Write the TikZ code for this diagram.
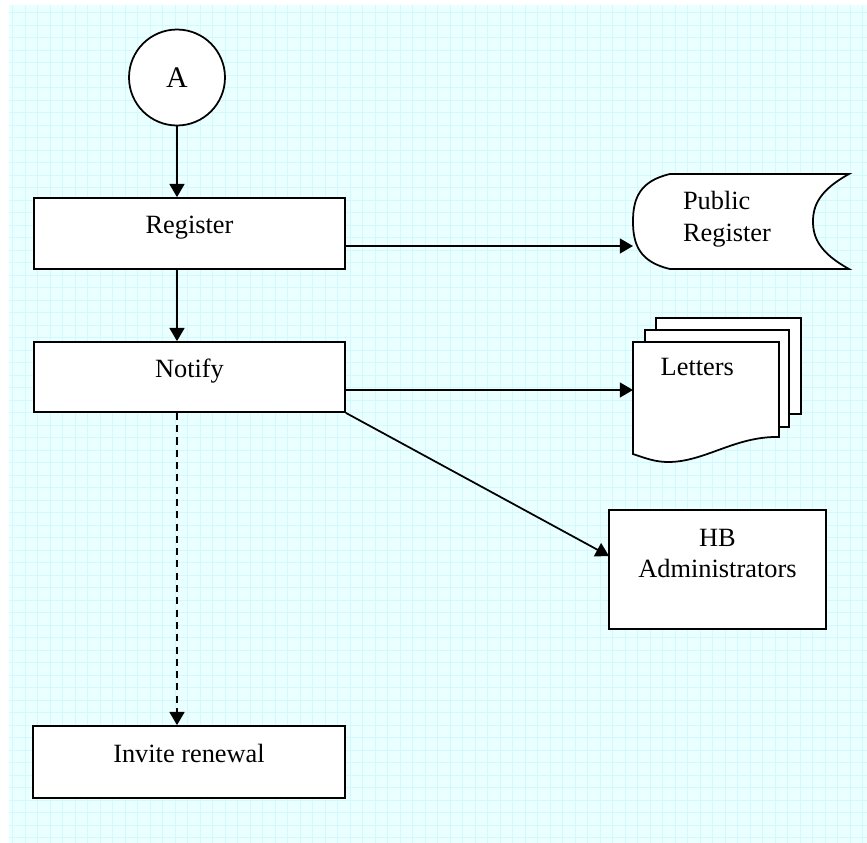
\documentclass[tikz,border=0pt]{standalone}
\usepackage{fontspec}
\setmainfont{Liberation Serif}
\usetikzlibrary{arrows.meta}
\usetikzlibrary{shapes,positioning}
\tikzset{>={Triangle[length=7.5pt,width=8.5pt]}}
\definecolor{paperCyan}{RGB}{234,255,255}
\definecolor{gridCyan}{RGB}{212,249,252}
\tikzset{procBox/.style={draw,fill=white,text height=0.35cm,text depth=0.35cm}}

\begin{document}
\begin{tikzpicture}[x=0.02cm,y=-0.02cm,line width=1pt,
		every node/.style={font=\fontsize{15}{18}\selectfont}]
				\useasboundingbox (0,0) rectangle (867,843);
				\fill [paperCyan] (9,5) rectangle (867,843);
				\draw [gridCyan,line width=0.25pt] (9,5) grid[step=0.25cm] (867,843);
				
				\node [draw,circle,fill=white,minimum size=1.92cm,inner sep=0pt,font=\fontsize{17}{20}\selectfont] (A) at (177,77.5) {A};
				\node [procBox,minimum width=6.22cm,minimum height=1.42cm] (reg) at (189.5,233.5) {Register};
				\node [procBox,minimum width=6.22cm,minimum height=1.4cm] (notify) at (189.5,377) {Notify};
				\node [procBox,minimum width=6.24cm,minimum height=1.44cm] (invite) at (189,762) {Invite renewal};
				
				% public register (stored data)
				\coordinate (prin) at (633,246);
				\draw [fill=white] (670,174) -- (849,174) .. controls (820,190) and (813,205) .. (813,221.5)
					.. controls (813,238) and (820,253) .. (849,269) -- (670,269)
					.. controls (640,262) and (633,245) .. (633,221.5)
					.. controls (633,198) and (640,181) .. (670,174) -- cycle;
				\node [align=left] (pubreg) at (727,219.5) {Public\\Register};
				
				% letters
				\coordinate (letin) at (633,390);
				\draw [fill=white] (656,318) rectangle (801,414);
				\draw [fill=white] (645,330) rectangle (789,427);
				\draw [fill=white] (633,342) -- (779,342) -- (779,437) .. controls (735,436) and (705,462) .. (668,462)
					.. controls (655,462) and (645,458) .. (633,454) -- cycle;
				\node [anchor=base west] (letters) at (654,375) {Letters};
				
				% HB administrators
				\coordinate (hbin) at (609,556);
				\node [draw,fill=white,minimum width=4.34cm,minimum height=2.38cm] (hb) at (717.5,569.5) {};
				\node [align=center] (hbtext) at (717.5,553.5) {HB\\Administrators};
				
				\draw [->] (A) -- (A |- reg.north);
				\draw [->] (reg.south -| A) -- (notify.north -| A);
				\draw [->,dash pattern=on 4pt off 3pt] (notify.south -| A) -- (invite.north -| A);
				\draw [->] (reg.east |- prin) -- (prin);
				\draw [->] (notify.east |- letin) -- (letin);
				\draw [->] (notify.south east) -- (hbin);
				\end{tikzpicture}
\end{document}
